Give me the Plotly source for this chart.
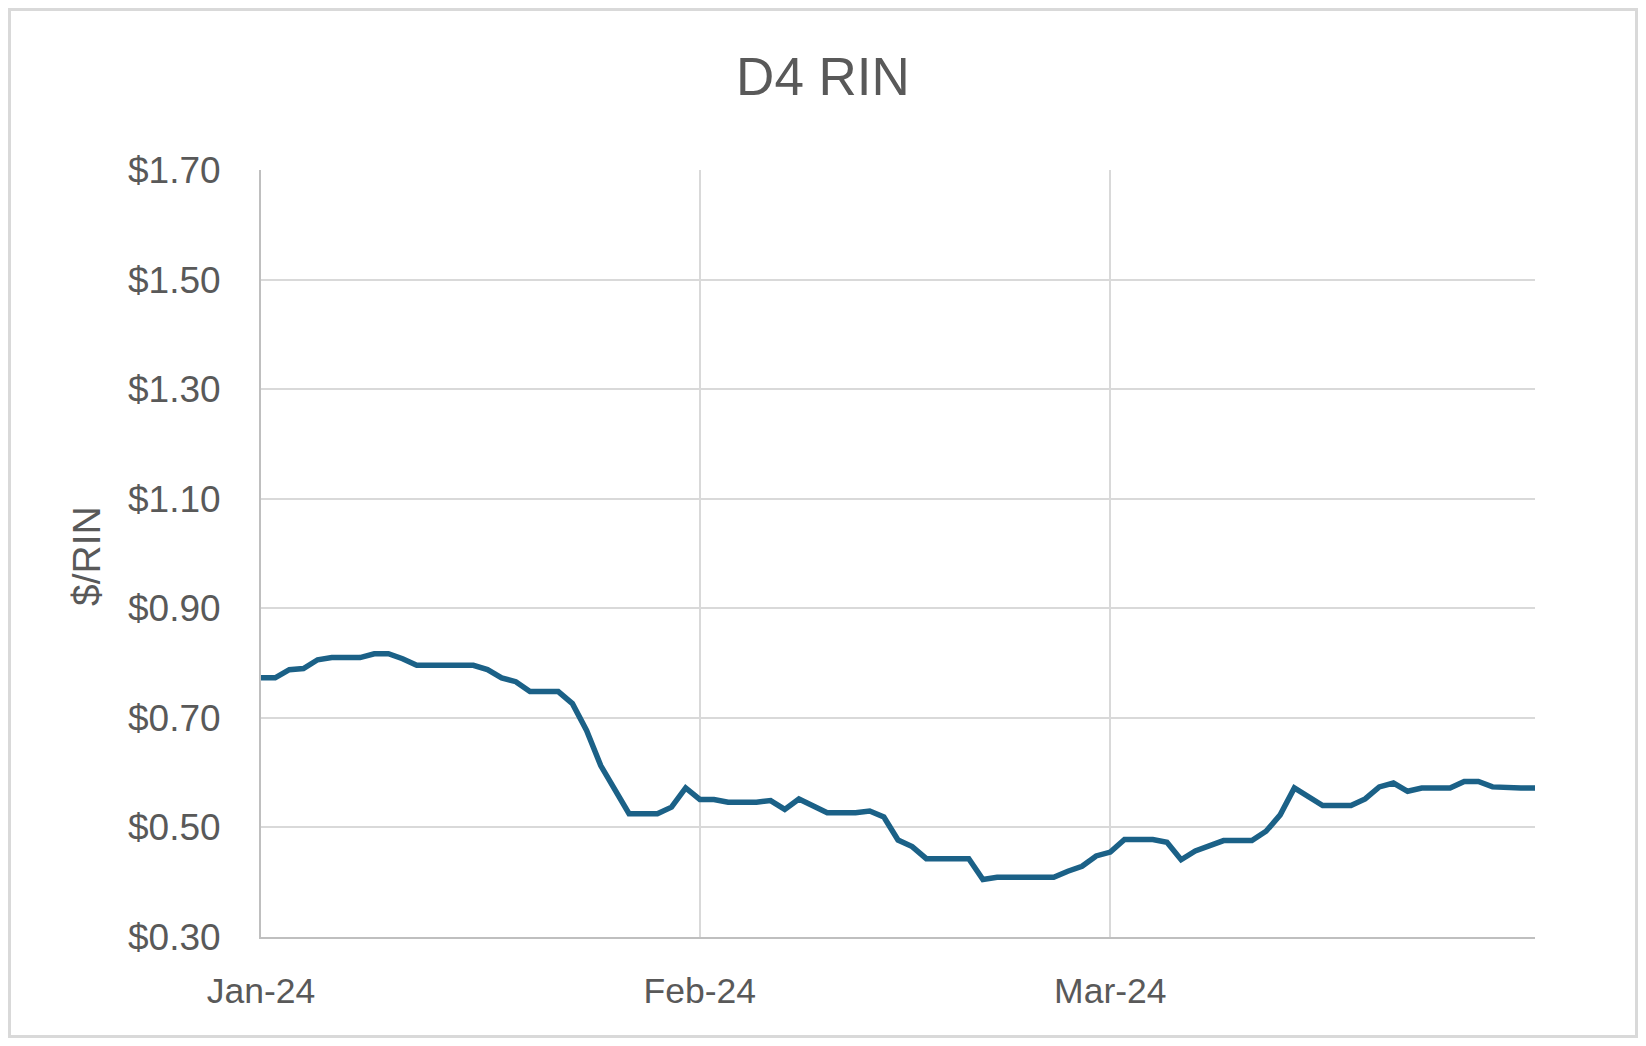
import pandas as pd
import plotly.graph_objects as go

# Daily D4 RIN prices ($/RIN), Jan 1 - Mar 31 2024
jan_values = [0.773, 0.773, 0.788, 0.790, 0.806, 0.810, 0.810, 0.810, 0.817, 0.817,
              0.808, 0.796, 0.796, 0.796, 0.796, 0.796, 0.788, 0.773, 0.766, 0.748,
              0.748, 0.748, 0.726, 0.677, 0.613, 0.570, 0.525, 0.525, 0.525, 0.537,
              0.572]
feb_values = [0.551, 0.551, 0.546, 0.546, 0.546, 0.549, 0.533, 0.552, 0.539, 0.527,
              0.527, 0.527, 0.530, 0.519, 0.477, 0.465, 0.443, 0.443, 0.443, 0.443,
              0.405, 0.409, 0.409, 0.409, 0.409, 0.409, 0.420, 0.429, 0.448]
mar_values = [0.455, 0.478, 0.478, 0.478, 0.473, 0.441, 0.457, 0.467, 0.476, 0.476,
              0.476, 0.493, 0.523, 0.572, 0.555, 0.540, 0.540, 0.540, 0.552, 0.574,
              0.581, 0.566, 0.572, 0.572, 0.572, 0.584, 0.584, 0.574, 0.572, 0.572,
              0.572]

dates = pd.date_range("2024-01-01", "2024-03-31", freq="D")
prices = jan_values + feb_values + mar_values

x_tick_vals = ["2024-01-01", "2024-02-01", "2024-03-01"]
x_tick_text = ["Jan-24", "Feb-24", "Mar-24"]
y_tick_vals = [0.30, 0.50, 0.70, 0.90, 1.10, 1.30, 1.50, 1.70]
y_tick_text = ["$0.30", "$0.50", "$0.70", "$0.90", "$1.10", "$1.30", "$1.50", "$1.70"]

TEXT = "#595959"
GRID = "#d9d9d9"
FONT = "Liberation Sans, Arial, sans-serif"

# page has an 8px body margin; figure sized to fit the window without overflow
OFF = 8
W, H = 1630, 1030
L, T = 261 - OFF, 170 - OFF
R = W - (1535 - OFF)
B = H - (937 - OFF)
pw, ph = W - L - R, H - T - B

fig = go.Figure()
fig.add_trace(go.Scatter(
    x=dates, y=prices, mode="lines",
    line=dict(color="#1b6187", width=5.5),
    hoverinfo="x+y", showlegend=False,
))

fig.update_layout(
    width=W, height=H,
    margin=dict(l=L, r=R, t=T, b=B),
    paper_bgcolor="white", plot_bgcolor="white",
    font=dict(family=FONT, color=TEXT, size=35),
    title=dict(text="D4 RIN", x=(823 - OFF) / W, xref="container", xanchor="center",
               y=1 - (76 - OFF) / H, yref="container", yanchor="middle",
               font=dict(size=53, color=TEXT, family=FONT)),
    xaxis=dict(
        type="date",
        range=["2024-01-01", "2024-03-31"],
        tickvals=x_tick_vals, ticktext=x_tick_text,
        showgrid=True, gridcolor=GRID, gridwidth=2,
        showline=True, linecolor="#bfbfbf", linewidth=2,
        ticks="outside", ticklen=21, tickcolor="rgba(0,0,0,0)",
        tickfont=dict(size=35.5, color=TEXT),
        zeroline=False, fixedrange=True,
    ),
    yaxis=dict(
        range=[0.30, 1.70],
        tickvals=y_tick_vals, ticktext=y_tick_text,
        showgrid=True, gridcolor=GRID, gridwidth=2,
        showline=True, linecolor="#bfbfbf", linewidth=2,
        ticks="outside", ticklen=31, tickcolor="rgba(0,0,0,0)",
        tickfont=dict(size=37, color=TEXT),
        zeroline=False, fixedrange=True,
    ),
    annotations=[dict(
        text="$/RIN", textangle=-90,
        x=(86 - OFF - L) / pw, xref="paper", xanchor="center",
        y=((H - B) - (556 - OFF)) / ph, yref="paper", yanchor="middle",
        showarrow=False, font=dict(size=39, color=TEXT, family=FONT),
    )],
    shapes=[dict(
        type="rect", xref="paper", yref="paper",
        x0=(1.5 - L) / pw, x1=(W - 1.5 - L) / pw,
        y0=((H - B) - (H - 1.5)) / ph, y1=((H - B) - 1.5) / ph,
        line=dict(color=GRID, width=3), fillcolor="rgba(0,0,0,0)", layer="below",
    )],
)

fig.write_html("out.html")
